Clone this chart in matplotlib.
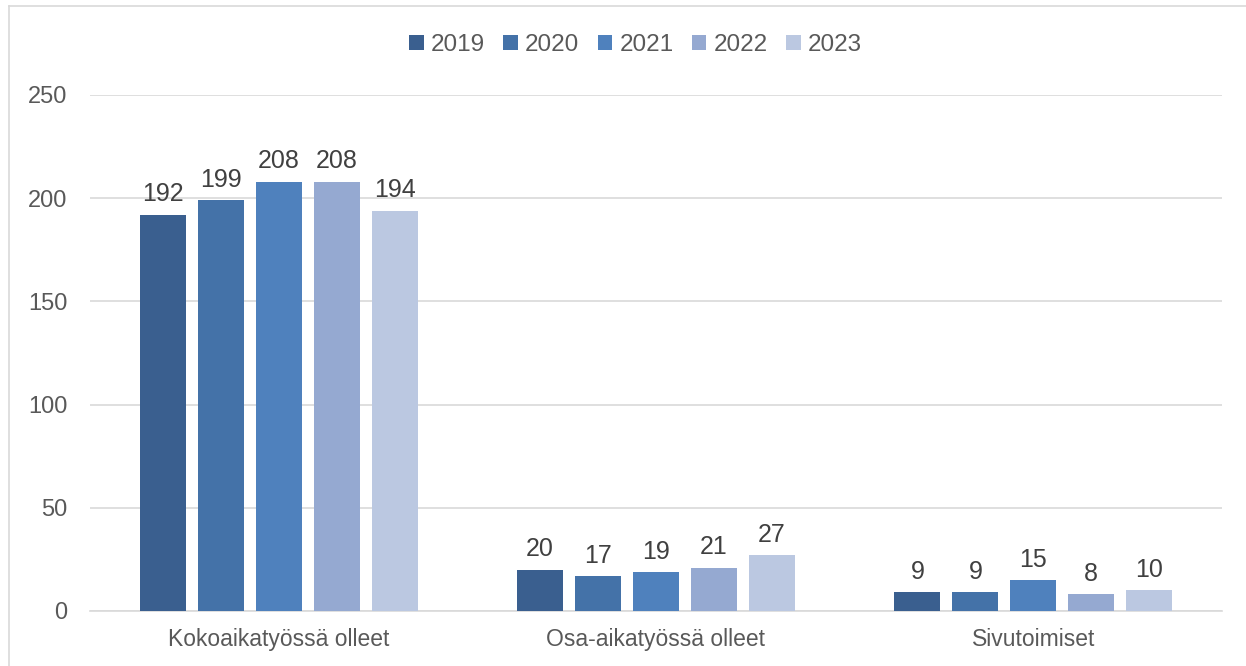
import matplotlib.pyplot as plt
import numpy as np

categories = ["Kokoaikatyössä olleet", "Osa-aikatyössä olleet", "Sivutoimiset"]
years = ["2019", "2020", "2021", "2022", "2023"]
v2019 = [192, 20, 9]
v2020 = [199, 17, 9]
v2021 = [208, 19, 15]
v2022 = [208, 21, 8]
v2023 = [194, 27, 10]
series = [v2019, v2020, v2021, v2022, v2023]
colors = ["#3A5F8F", "#4472A8", "#4F81BD", "#95A9D1", "#BBC8E1"]

plt.rcParams['font.family'] = ['Liberation Sans', 'DejaVu Sans']
text_col = "#595959"

fig = plt.figure(figsize=(12.46, 6.66), dpi=100)
ax = fig.add_axes([0.0722, 0.0826, 0.9085, 0.7748])

x = np.arange(len(categories))
step = 0.1536
width = 0.122
for i, (vals, col, yr) in enumerate(zip(series, colors, years)):
    pos = x + (i - 2) * step
    bars = ax.bar(pos, vals, width, color=col, label=yr, zorder=3)
    for b, v in zip(bars, vals):
        ax.text(b.get_x() + b.get_width() / 2, v + 4, str(v), ha="center", va="bottom",
                fontsize=18, color="#404040")

ax.set_xlim(-0.5, 2.5)
ax.set_ylim(0, 250)
ax.set_yticks(range(0, 251, 50))
ax.set_xticks(x)
ax.set_xticklabels(categories)
ax.grid(axis="y", color="#D9D9D9", linewidth=1.2, zorder=0)
for s in ["top", "right", "left"]:
    ax.spines[s].set_visible(False)
ax.spines["bottom"].set_color("#D9D9D9")
ax.spines["bottom"].set_linewidth(1.2)
ax.tick_params(axis="both", length=0, colors=text_col)
ax.tick_params(axis="y", pad=16, labelsize=17)
ax.tick_params(axis="x", pad=12, labelsize=16.5)

fig.legend(loc="center", bbox_to_anchor=(0.51, 0.932), ncol=5, frameon=False,
           fontsize=17.5, labelcolor=text_col, handlelength=0.6, handleheight=0.6,
           handletextpad=0.3, columnspacing=0.75)

# outer chart border (left and top visible)
fig.add_artist(plt.Line2D([9 / 1246, 9 / 1246], [0, 1 - 6 / 666], transform=fig.transFigure,
                          color="#D9D9D9", linewidth=1.2))
fig.add_artist(plt.Line2D([9 / 1246, 1], [1 - 6 / 666, 1 - 6 / 666], transform=fig.transFigure,
                          color="#D9D9D9", linewidth=1.2))

fig.savefig("out.png", dpi=100)
